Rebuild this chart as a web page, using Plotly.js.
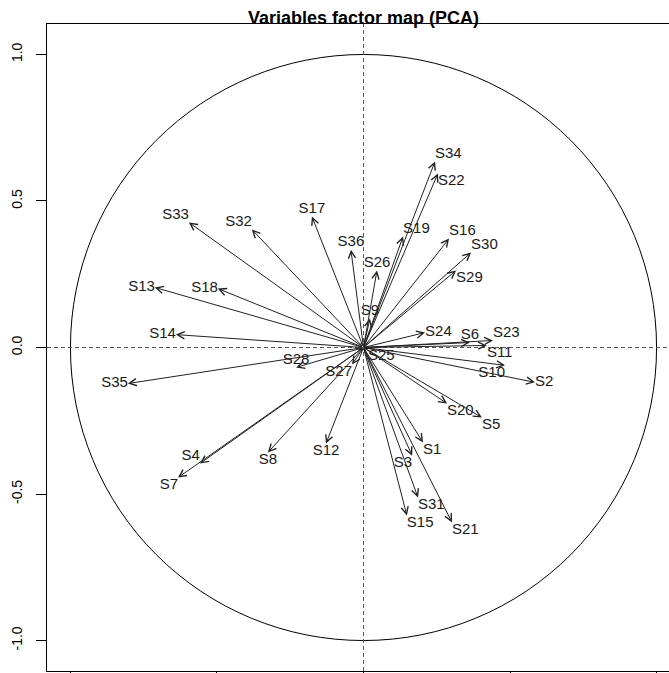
<!DOCTYPE html>
<html>
<head>
<meta charset="utf-8">
<script src="https://cdn.plot.ly/plotly-3.0.1.min.js"></script>
<style>
html,body{margin:0;padding:0;overflow:hidden;background:#fff;}
#chart{width:690px;height:721px;}
</style>
</head>
<body>
<div id="chart"></div>
<script>
// Variable names and their coordinates on Dim 1 / Dim 2
const variables = ["S1","S2","S3","S4","S5","S6","S7","S8","S9","S10","S11","S12","S13","S14","S15","S16","S17","S18","S19","S20","S21","S22","S23","S24","S25","S26","S27","S28","S29","S30","S31","S32","S33","S34","S35","S36"];
const dim1 = [0.203,0.585,0.166,-0.558,0.404,0.363,-0.633,-0.326,0.022,0.483,0.421,-0.128,-0.712,-0.640,0.148,0.292,-0.176,-0.497,0.135,0.285,0.302,0.254,0.442,0.210,0.015,0.046,-0.039,-0.230,0.316,0.367,0.186,-0.381,-0.596,0.244,-0.804,-0.043];
const dim2 = [-0.324,-0.119,-0.369,-0.396,-0.239,0.017,-0.444,-0.358,0.099,-0.061,0.007,-0.328,0.205,0.044,-0.573,0.372,0.447,0.201,0.379,-0.191,-0.597,0.594,0.024,0.051,-0.005,0.263,-0.058,-0.068,0.263,0.324,-0.512,0.403,0.427,0.635,-0.123,0.334];
const yTicks = [-1.0,-0.5,0.0,0.5,1.0];
const xTicks = [-1.0,-0.5,0.0,0.5,1.0];

// label placement (style only)
const labelSide = ["bottom right","middle right","bottom left","top left","bottom right","top center","bottom left","bottom center","top center","bottom left","bottom right","bottom center","middle left","middle left","bottom right","top right","top center","middle left","top right","bottom right","bottom right","bottom right","top right","middle right","bottom right","top center","bottom left","top center","bottom right","top right","bottom right","top left","top left","top right","middle left","top center"];

const arrows = variables.map((v,i)=>({
  x: dim1[i], y: dim2[i], ax: 0, ay: 0,
  xref:'x', yref:'y', axref:'x', ayref:'y',
  text:'', showarrow:true, arrowhead:5, arrowsize:1.4, arrowwidth:1,
  arrowcolor:'#222', standoff:0, startstandoff:0
}));

const labels = {
  type:'scatter', mode:'text', x: dim1, y: dim2, text: variables,
  textposition: labelSide,
  textfont:{family:'Liberation Sans, Arial, sans-serif', size:15, color:'#1a1a1a'},
  hoverinfo:'skip', showlegend:false, cliponaxis:false
};

const layout = {
  width:690, height:721,
  margin:{l:47, r:10, t:24, b:50, autoexpand:false},
  paper_bgcolor:'#fff', plot_bgcolor:'#fff',
  showlegend:false,
  title:{text:'<b>Variables factor map (PCA)</b>', x:0.5, xref:'paper', xanchor:'center',
         y:1-18/721, yref:'container', yanchor:'middle',
         font:{family:'Liberation Sans, Arial, sans-serif', size:18, color:'#000'}},
  xaxis:{range:[-1.08,1.08], tickvals:xTicks, showticklabels:false,
         showgrid:false, zeroline:false, showline:true, mirror:true, linecolor:'#000', linewidth:1,
         ticks:'outside', ticklen:10, tickcolor:'#000', tickwidth:1},
  yaxis:{range:[-1.104,1.104], tickvals:yTicks, ticktext:yTicks.map(v=>v.toFixed(1)),
         showgrid:false, zeroline:false, showline:true, mirror:true, linecolor:'#000', linewidth:1,
         ticks:'outside', ticklen:10, tickcolor:'#000', tickwidth:1, tickangle:-90,
         ticklabelstandoff:8,
         tickfont:{family:'Liberation Sans, Arial, sans-serif', size:14, color:'#000'}},
  shapes:[
    {type:'circle', xref:'x', yref:'y', x0:-1, x1:1, y0:-1, y1:1, line:{color:'#000', width:1}},
    {type:'line', xref:'paper', yref:'y', x0:0, x1:1, y0:0, y1:0, line:{color:'#555', width:1, dash:'4px,3px'}},
    {type:'line', xref:'x', yref:'paper', x0:0, x1:0, y0:0, y1:1, line:{color:'#555', width:1, dash:'4px,3px'}}
  ],
  annotations: arrows
};

Plotly.newPlot('chart', [labels], layout, {displayModeBar:false, staticPlot:true});
</script>
</body>
</html>
